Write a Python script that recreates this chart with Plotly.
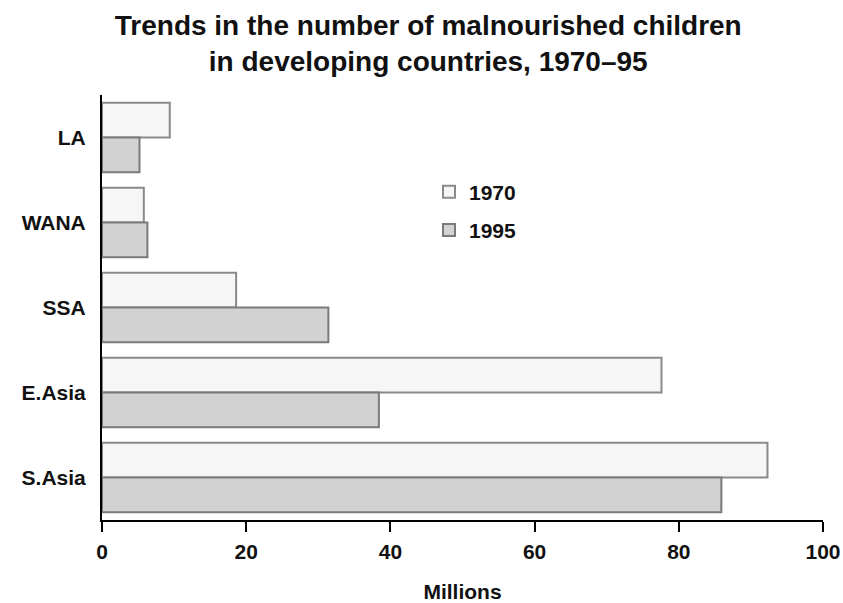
import plotly.graph_objects as go

regions = ["LA", "WANA", "SSA", "E.Asia", "S.Asia"]
values_1970 = [9.4, 5.8, 18.6, 77.6, 92.3]
values_1995 = [5.2, 6.3, 31.4, 38.4, 85.9]
series_names = ["1970", "1995"]
x_ticks = [0, 20, 40, 60, 80, 100]

FONT = "Liberation Sans, Arial, sans-serif"
INK = "#111111"

fig = go.Figure()
fig.add_trace(go.Bar(
    y=regions, x=values_1970, name=series_names[0], orientation="h", legendgroup="a",
    marker=dict(color="#f6f6f6", line=dict(color="#8a8a8a", width=2)),
))
fig.add_trace(go.Bar(
    y=regions, x=values_1995, name=series_names[1], orientation="h", legendgroup="b",
    marker=dict(color="#d2d2d2", line=dict(color="#7a7a7a", width=2)),
))

fig.update_layout(
    width=843, height=603,
    margin=dict(l=102, r=20, t=95, b=83, autoexpand=False),
    paper_bgcolor="white", plot_bgcolor="white",
    barmode="group", bargap=0.18, bargroupgap=0,
    font=dict(family=FONT, color=INK, size=20, weight="bold"),
    title=dict(
        text="Trends in the number of malnourished children<br>in developing countries, 1970–95",
        x=0.508, xanchor="center", xref="container", y=0.942, yanchor="top", yref="container",
        font=dict(family=FONT, size=28, color=INK, weight="bold"),
    ),
    legend=dict(
        x=0.4535, y=0.82, xanchor="left", yanchor="top",
        bgcolor="rgba(0,0,0,0)", font=dict(size=21, weight="bold", family=FONT, color=INK),
        itemwidth=30, traceorder="grouped", tracegroupgap=8,
    ),
    showlegend=True,
)
fig.update_xaxes(
    range=[0, 100], tickvals=x_ticks, ticktext=[str(v) for v in x_ticks],
    showgrid=False, zeroline=False, automargin=False,
    showline=True, linecolor="black", linewidth=2,
    ticks="outside", ticklen=10, tickwidth=2, tickcolor="black",
    ticklabelstandoff=2,
    tickfont=dict(size=21, family=FONT, color=INK, weight="bold"),
    title=dict(text="Millions", standoff=40, font=dict(size=21, family=FONT, color=INK, weight="bold")),
)
fig.update_yaxes(
    categoryorder="array", categoryarray=regions, autorange="reversed",
    showgrid=False, zeroline=False, automargin=False,
    showline=True, linecolor="black", linewidth=2,
    ticks="", ticklabelstandoff=10,
    tickfont=dict(size=21, family=FONT, color=INK, weight="bold"),
)

fig.write_html(
    "out.html",
    config={"displayModeBar": False},
    post_script="document.body.style.margin='0';document.body.style.padding='0';",
)
